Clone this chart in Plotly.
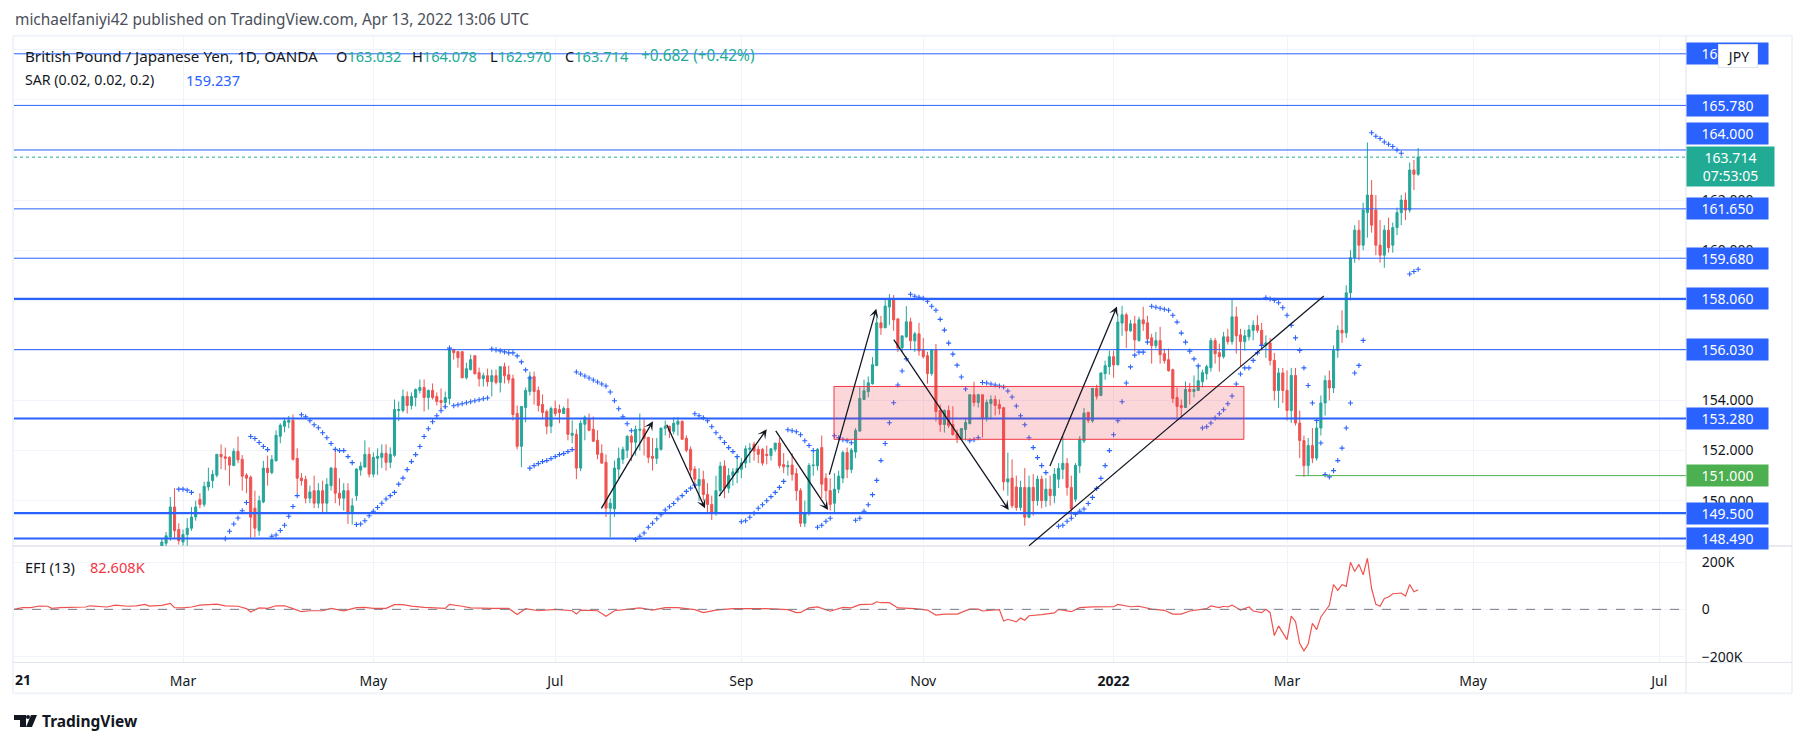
import numpy as np
import pandas as pd
import plotly.graph_objects as go

# ---------- data ----------
first_day = "2021-02-22"
open_ = [
148.1,148.3,148.55,149.75,148.85,148.35,148.65,148.9,149.35,150.05,
149.85,150.55,150.8,151.02,151.85,151.75,151.73,151.4,151.97,151.65,
151.02,150.94,149.7,148.8,149.95,151.3,151.12,151.59,152.57,152.97,
153.13,153.21,151.69,150.9,150.85,150.1,150.4,149.9,150.4,149.9,
150.6,151.3,150.3,150.1,150.4,149.5,150.2,151.22,151.34,151.85,
151.06,151.69,151.73,151.89,151.53,151.81,153.6,153.6,154.16,153.8,
154.12,154.4,154.52,154.12,154.4,154.16,154.0,153.92,154.08,156.03,
155.95,155.95,154.91,155.23,155.79,155.11,154.87,154.99,154.75,154.99,
154.72,155.35,155.03,154.87,153.48,152.17,153.72,154.36,154.95,154.4,
153.84,153.56,152.97,153.68,153.64,153.48,153.68,152.61,152.65,151.3,
153.05,153.28,152.85,152.41,151.89,151.53,149.7,149.67,151.26,151.65,
152.01,152.57,152.33,152.81,152.85,152.53,151.77,151.69,152.05,152.89,
152.97,152.77,153.05,153.17,152.49,152.05,151.26,150.6,150.85,150.25,
149.85,149.5,150.4,151.38,150.5,151.0,151.12,151.25,151.5,152.05,
152.25,152.05,152.05,151.85,151.8,152.05,152.3,151.44,151.35,151.42,
151.08,150.4,149.1,149.5,151.4,151.39,152.12,150.9,150.4,149.9,
150.46,150.9,151.92,151.25,151.94,152.78,154.04,154.35,154.67,155.39,
157.1,156.9,157.73,158.05,157.26,156.1,156.54,157.14,156.38,156.66,
156.02,155.79,155.07,156.02,153.6,153.04,153.6,153.04,152.68,152.44,
152.84,153.08,154.23,153.92,154.23,153.28,153.88,154.04,153.84,153.71,
150.75,150.9,150.55,149.73,150.53,149.34,150.53,150.0,150.86,150.0,
150.46,150.2,150.86,151.25,151.49,150.53,150.06,151.39,152.38,153.53,
153.18,154.48,154.2,155.07,155.35,155.75,155.43,157.09,157.42,156.78,
157.06,156.39,157.22,157.1,156.5,156.19,156.39,155.87,155.63,155.23,
154.12,153.8,153.72,154.44,154.36,154.4,154.75,155.07,155.31,156.39,
155.91,155.75,156.54,156.35,157.34,156.62,156.35,156.54,156.8,157.0,
156.8,156.2,156.3,155.6,154.4,155.1,154.4,153.6,155.0,153.1,
152.4,151.4,152.2,151.7,152.9,153.9,154.8,154.5,156.0,156.8,
156.7,158.3,159.7,160.8,160.2,161.5,162.2,161.6,160.2,159.8,
160.8,160.2,160.9,161.5,162.0,161.6,163.2,163.032]
high = [
148.5,148.75,150.15,150.5,149.1,148.85,149.3,149.75,150.0,150.3,
150.75,151.32,151.22,151.85,152.25,152.12,151.77,152.09,152.56,151.82,
151.1,151.0,150.4,150.2,151.59,151.8,151.82,152.81,153.09,153.31,
153.38,153.44,152.09,151.1,151.0,150.6,151.0,150.7,150.8,150.9,
151.35,152.05,150.9,150.7,150.7,150.1,151.3,151.55,152.41,152.13,
151.93,152.09,152.25,152.25,152.13,154.04,153.96,154.44,154.36,154.32,
154.48,154.84,154.84,154.44,154.68,154.32,154.48,154.36,156.13,156.07,
155.95,155.95,155.51,155.83,155.79,155.31,155.11,155.27,155.23,155.23,
155.35,155.51,155.39,155.03,153.8,153.76,154.52,155.15,155.15,154.56,
154.24,153.64,153.76,154.0,153.84,153.76,154.08,153.21,152.85,153.21,
153.4,153.48,153.36,152.81,152.25,151.85,150.1,151.6,152.12,152.16,
152.61,152.65,153.0,153.48,153.25,152.53,152.5,152.5,152.9,153.2,
153.0,153.33,153.33,153.2,152.61,152.17,151.38,151.3,151.2,150.7,
150.2,151.0,151.55,151.61,151.3,151.3,151.78,151.7,152.2,152.3,
152.35,152.2,152.1,152.2,152.1,152.3,152.5,151.9,151.6,151.9,
151.3,150.5,150.0,151.5,151.9,152.1,152.6,151.1,150.9,151.1,
151.2,152.0,152.12,152.1,152.9,154.53,154.83,154.96,155.73,157.42,
157.38,158.04,158.25,158.21,157.26,156.58,157.77,157.3,156.74,157.1,
156.5,155.94,156.06,156.26,153.84,153.64,153.8,153.77,152.84,152.88,
153.28,154.23,154.75,154.27,154.23,154.04,154.2,154.2,154.04,153.75,
151.92,151.65,151.0,150.8,151.3,151.0,151.06,151.0,151.0,150.9,
151.0,151.3,151.5,152.58,151.7,151.0,151.5,152.58,153.7,153.53,
154.48,154.63,155.12,155.59,155.99,155.99,157.46,157.78,157.5,157.22,
157.38,157.34,157.74,157.38,156.66,156.74,156.94,156.07,156.07,155.27,
154.52,154.04,154.76,154.7,155.0,155.39,155.23,155.43,156.5,156.5,
156.27,156.74,156.86,158.08,157.74,156.86,156.82,157.02,157.2,157.4,
157.1,156.6,156.5,155.9,155.3,155.3,155.2,155.3,155.3,153.6,
152.6,152.5,152.9,153.2,154.2,155.0,155.2,156.2,157.0,157.6,
158.6,160.0,161.0,161.2,161.9,164.3,162.8,162.2,161.2,161.0,
161.3,161.1,161.7,162.2,162.3,163.5,163.6,164.078]
low = [
147.9,148.0,148.4,148.5,148.25,148.2,148.2,148.8,149.2,149.7,
149.75,150.4,150.5,150.93,151.26,151.22,150.6,151.38,151.5,150.4,
150.3,148.5,148.55,148.6,149.9,150.6,151.06,151.57,152.29,152.73,
152.89,151.6,150.3,150.6,149.9,149.9,149.7,149.7,149.5,149.55,
150.4,149.9,149.8,149.6,149.07,149.05,150.0,151.0,151.33,150.93,
150.93,151.02,151.3,151.2,151.3,151.75,153.18,153.52,153.48,153.64,
153.76,154.28,153.56,153.64,154.04,153.8,153.64,153.68,153.84,155.63,
155.31,154.88,154.84,155.2,155.03,154.56,154.56,154.56,154.16,154.64,
154.32,154.68,154.68,153.2,152.05,151.33,153.13,154.2,153.84,153.56,
153.25,152.65,152.69,153.37,153.09,153.48,152.41,152.29,150.86,151.18,
152.41,152.77,152.37,151.65,151.46,149.35,148.54,149.35,150.9,151.46,
151.7,151.58,151.8,152.0,151.8,151.5,151.2,151.46,152.0,152.6,
152.5,152.65,152.6,152.45,151.93,151.0,150.5,150.0,150.0,149.55,
149.23,149.4,150.2,150.1,150.3,150.6,150.7,150.9,151.3,151.5,
151.6,151.5,151.4,151.45,151.6,151.95,151.3,151.1,151.0,150.8,
150.0,148.95,148.95,149.4,151.0,151.2,150.1,150.0,149.6,149.5,
150.3,150.7,150.9,151.1,151.7,152.75,154.04,154.12,154.63,155.39,
156.62,156.9,157.02,156.78,155.94,155.94,156.5,156.02,155.94,155.79,
155.67,154.67,154.99,153.16,152.75,152.72,152.9,152.6,152.3,152.44,
152.4,153.04,153.76,153.72,152.52,153.16,153.24,153.4,153.44,150.4,
150.2,149.7,149.6,149.6,149.0,149.3,149.4,149.8,149.7,149.75,
149.8,149.9,150.5,150.86,150.2,149.3,149.95,151.1,152.3,153.1,
153.11,154.04,154.17,154.83,155.03,154.91,155.39,156.58,156.1,156.74,
155.95,156.35,156.78,156.42,155.47,156.07,155.47,155.47,155.15,153.9,
153.2,153.27,153.71,153.84,154.12,154.4,154.52,154.83,155.15,155.47,
155.15,155.67,156.23,156.23,155.87,155.35,155.99,156.39,156.4,156.7,
156.0,155.7,155.4,154.0,153.7,153.9,153.2,153.1,153.0,151.7,
150.95,151.0,151.5,151.6,152.6,153.4,154.0,154.3,155.7,156.3,
156.5,158.0,159.5,159.6,160.0,160.5,160.7,159.8,159.5,159.3,
159.9,159.9,160.6,161.0,161.2,161.5,162.4,162.97]
close = [
148.35,148.6,149.75,148.8,148.4,148.65,148.9,149.35,149.75,149.85,
150.57,150.75,151.05,151.85,151.75,151.69,151.42,151.97,151.63,150.98,
150.9,149.34,148.9,150.0,151.3,151.12,151.64,152.61,153.01,153.18,
153.21,151.65,150.9,150.8,150.1,150.35,149.9,150.4,149.9,150.65,
151.3,150.3,150.1,150.4,149.5,149.8,151.26,151.38,151.85,151.06,
151.73,151.77,151.89,151.53,151.85,153.64,153.64,154.16,153.8,154.16,
154.44,154.52,154.12,154.4,154.12,153.96,153.92,154.12,156.03,155.91,
155.71,154.91,155.27,155.63,155.07,154.87,154.99,154.75,154.99,154.72,
155.35,154.99,154.83,153.44,152.17,153.76,154.4,154.95,154.36,153.8,
153.52,152.97,153.68,153.48,153.52,153.68,152.65,152.69,151.3,153.09,
153.33,152.81,152.37,151.85,151.5,149.7,149.9,151.3,151.69,152.05,
152.57,152.33,152.85,152.85,152.49,151.73,151.69,152.09,152.9,152.97,
152.77,153.09,153.17,152.45,152.01,151.22,150.86,150.85,150.25,149.85,
149.5,150.4,151.38,150.5,151.0,151.15,151.28,151.5,152.07,152.1,
151.98,151.85,151.5,151.8,152.07,152.3,151.4,151.35,151.4,151.05,
150.4,149.1,149.5,151.4,151.42,152.05,150.66,150.4,149.85,150.46,
150.98,151.92,151.25,152.02,152.8,154.08,154.39,154.71,155.43,157.1,
156.9,157.77,158.05,157.22,156.1,156.58,157.14,156.38,156.66,155.98,
155.75,155.07,156.02,153.56,153.04,153.6,153.0,152.64,152.48,152.88,
153.12,154.23,153.92,154.23,153.28,153.92,154.04,153.8,153.68,150.75,
150.87,149.8,149.73,150.53,149.34,150.53,150.0,150.86,150.0,150.46,
150.2,151.06,151.29,151.49,150.53,149.67,151.41,152.45,153.5,153.2,
154.48,154.17,155.1,155.39,155.75,155.42,157.13,157.42,156.78,157.06,
156.42,157.22,157.06,156.46,156.19,156.39,155.83,155.59,155.19,154.08,
153.76,153.72,154.44,154.36,154.44,154.79,155.11,155.35,156.39,155.87,
155.75,156.54,156.35,157.34,156.58,156.35,156.58,156.82,157.0,156.8,
156.2,156.3,155.6,154.4,155.1,154.4,153.6,155.0,153.1,152.4,
151.4,152.2,151.7,152.9,153.9,154.8,154.5,156.0,156.8,156.7,
158.3,159.7,160.8,160.2,161.6,162.2,161.0,160.2,159.8,160.8,
160.1,160.9,161.5,162.0,161.6,163.2,163.03,163.714]

sar_runs = [
 (-1,[150.46,150.46,150.42,150.33]),
 (10,[148.48,148.78,149.07,149.31,149.6,149.93]),
 (16,[152.56,152.48,152.32,152.16,152.04]),
 (21,[148.58,148.63,148.81,149.02,149.38,149.77,150.2]),
 (28,[153.43,153.35,153.19,153.03,152.91,152.71,152.51,152.28,152.05,152.0,152.0,151.76,151.52]),
 (41,[149.05,149.07,149.2,149.4,149.58,149.73,149.9,150.07,150.2,150.33,150.66,150.9,
      151.24,151.56,151.84,152.16,152.56,152.87,153.15,153.39,153.59,153.75]),
 (63,[156.09]),
 (64,[153.79,153.83,153.87,153.91,153.95,153.99,154.03,154.07,154.1]),
 (73,[156.05,156.02,155.98,155.94,155.9,155.9,155.78,155.54,155.22,154.9]),
 (82,[151.3,151.4,151.48,151.56,151.6,151.68,151.76,151.84,151.88,151.96,152.04]),
 (93,[155.14,155.06,154.98,154.9,154.82,154.74,154.66,154.58,154.34,153.99,153.67,153.35,153.07,152.79]),
 (107,[148.45,148.58,148.71,148.94,149.1,149.28,149.44,149.63,149.76,149.89,150.07,150.2,150.37,150.5,150.62]),
 (121,[153.47,153.39,153.31,153.19,152.95,152.71,152.51,152.32,152.12,151.96,151.76]),
 (132,[149.16,149.2,149.34,149.5,149.7,149.84,150.0,150.16,150.33,150.53,150.77]),
 (143,[152.83,152.79,152.75,152.63,152.39,152.2,152.0]),
 (150,[148.94,149.02,149.18,149.3]),
 (154,[152.59,152.51,152.43,152.39,152.31]),
 (159,[149.22,149.3,149.58,149.84,150.24,150.81,151.6,152.28,153.11,153.91,154.62,155.18,155.66]),
 (172,[158.24,158.16,158.12,158.08,157.96,157.76,157.6,157.24,156.81,156.29,155.85,155.41,154.94,154.46]),
 (186,[152.39,152.43,152.51]),
 (189,[154.72,154.7,154.66,154.62,154.58,154.54,154.38,154.14,153.78,153.39,153.03,152.51,152.12,151.72,151.4,151.12]),
 (207,[148.98,149.02,149.18,149.3,149.46,149.58,149.67,149.89,150.13,150.49,150.89,
       151.4,152.0,152.63,153.19,153.95,154.7,155.34,155.81,155.93,155.93,156.33]),
 (229,[157.76,157.72,157.68,157.64,157.6,157.4,157.13,156.69,156.33,155.97,155.66,155.38]),
 (241,[152.9,152.95,153.1,153.3,153.47,153.63,153.87,154.18,154.66,155.06,155.3,155.3,155.6,155.9,156.2]),
 (256,[158.1,158.05,158.0,157.9,157.7,157.4,157.0,156.5,156.0,155.3,154.6,153.9,153.2,152.3]),
 (270,[151.04,150.95,151.2,151.6,152.1,152.9,153.9,155.1,155.4,156.4]),
 (281,[164.69,164.55,164.46,164.32,164.23,164.14,164.0,163.87]),
 (290,[159.05,159.15,159.24]),
]

efi_bars = [
-40,-38,-36,-34,-32,-31,-29,-27,-25,-23,
-22,-20,-18,-16,-14,-13,-11,-9,-8,-5,
-3,-2,0,2,4,6,8,10,13,15,
16,18,20,22,24,26,28,30,33,35,
38,41,43,45,48,50,52,54,57,62,
63,66,68,73,77,79,81,84,88,92,
93,94,98,100,102,108,111,114,117,121,
123,126,130,138,143,145,
146,148,150,153,156,158,160,163,164,165,
167,169,171,173,176,178,180,183,186,188,
189,193,194,195,197,198,199,200,203,206,
207,210,212,215,220,221,224,226,229,232,
234,236,238,241,242,243,245,246,247,248,
250,252,253,255,256,257,258,259,261,262,
263,264,265,266,267,268,269,271,272,273,
274,275,276,277,278,279,280,281,282,283,
284,285,286,288,289,290,291,292]
efi_k = [
0,7,7,14,13,4,7,7,8,10,
15,13,10,18,15,13,15,21,14,17,
25,7,6,10,18,20,22,15,13,3,
-11,6,4,15,15,3,-10,-6,-6,4,
-6,7,8,4,4,20,20,14,8,4,
21,13,6,4,4,-22,3,-6,0,-6,
-20,-3,-6,-29,-6,6,-3,7,7,-1,
-14,-3,3,3,-1,-14,
-13,6,10,-8,8,6,20,22,32,28,
28,6,6,3,-3,-24,-20,-20,1,1,
-7,-1,-49,-42,-53,-37,-46,-27,-22,-15,
0,-10,7,10,11,21,11,13,1,-4,
-20,-20,-7,1,3,15,7,13,10,18,
-3,10,-7,-14,0,-14,-111,-70,-128,-29,
-51,-145,-175,-147,-59,-86,-32,17,105,80,
104,97,199,160,190,146,216,87,21,13,
46,52,66,69,56,105,74,82.608]

level_values = [167.84, 165.78, 164.0, 161.65, 159.68, 158.06, 156.03, 153.28, 149.5, 148.49]
level_widths = [1, 1, 1, 1, 1, 2.2, 1, 2.2, 2.2, 2.2]
level_text = ["167.840", "165.780", "164.000", "161.650", "159.680", "158.060", "156.030", "153.280", "149.500", "148.490"]
support_value = 151.0
support_from_bar = 263
last_price = 163.714

arrow_from_bar = [98.7, 114.2, 126.5, 139.9, 152.7, 167.8, 204.8]
arrow_from_price = [149.63, 153.09, 150.12, 152.85, 150.98, 156.49, 151.32]
arrow_to_bar = [111.1, 123.4, 138.0, 152.5, 163.9, 195.2, 220.8]
arrow_to_price = [153.17, 149.7, 152.85, 149.63, 157.66, 149.63, 157.75]
trend_bars = [200, 269.7]
trend_prices = [148.2, 158.17]
box_bars = [153.9, 250.8]
box_prices = [152.45, 154.56]

price_ticks = [150, 152, 154, 156, 158, 160, 162, 164, 166, 168]
price_labelled = [150, 152, 154, 160, 162]
efi_ticks = [-200000, 0, 200000]
efi_tick_text = ["\u2212200K", "0", "200K"]
time_tick_dates = ["2021-03-01", "2021-05-03", "2021-07-01", "2021-09-01", "2021-11-01", "2022-01-03", "2022-03-01", "2022-05-02", "2022-07-01"]
time_tick_text = ["Mar", "May", "Jul", "Sep", "Nov", "<b>2022</b>", "Mar", "May", "Jul"]

# ---------- layout constants ----------
W, H = 1801, 747
FONT = "Noto Sans"
BLUE = "#2962ff"; UP = "#26a69a"; DOWN = "#ef5350"; TEAL = "#22ab94"; GRID = "#f0f3fa"; EDGE = "#e0e3eb"; INK = "#131722"
L, R, T, M, B = 14, 1686, 36, 547, 664
DY = 1.1   # vertical nudge of both panes
PX_PER_BAR = 4.23
X_MAR = 183
def fx(px): return px / W
def fy(py): return 1 - py / H

bars = [int(np.busday_count("2021-03-01", d.date())) for d in pd.bdate_range(first_day, periods=len(close))]
tick_bars = [int(np.busday_count("2021-03-01", d)) for d in time_tick_dates]
x_range = [(L - X_MAR) / PX_PER_BAR, (R - X_MAR) / PX_PER_BAR]
P_TOP = 154 + (401 - T) / 25.15
P_BOT = 154 - (M - 401) / 25.15
E_TOP = (610.7 - (M + 1)) / 47.5 * 200000
E_BOT = (610.7 - B) / 47.5 * 200000

fig = go.Figure()
fig.add_trace(go.Candlestick(x=bars, open=open_, high=high, low=low, close=close, xaxis="x", yaxis="y",
    increasing=dict(line=dict(color=UP, width=1), fillcolor=UP),
    decreasing=dict(line=dict(color=DOWN, width=1), fillcolor=DOWN),
    whiskerwidth=0, hoverinfo="skip", showlegend=False))
sar_x = [s + k for s, vals in sar_runs for k in range(len(vals))]
sar_y = [v for s, vals in sar_runs for v in vals]
fig.add_trace(go.Scatter(x=sar_x, y=sar_y, mode="markers", xaxis="x", yaxis="y", hoverinfo="skip", showlegend=False,
    marker=dict(symbol="cross-thin", size=3.6, color=BLUE, line=dict(width=1.1, color=BLUE))))
fig.add_trace(go.Scatter(x=efi_bars, y=[v * 1000 for v in efi_k], mode="lines", xaxis="x2", yaxis="y2", hoverinfo="skip", showlegend=False,
    line=dict(color=DOWN, width=1.2)))

shapes = []
for v, w in zip(level_values, level_widths):
    shapes.append(dict(type="line", xref="paper", yref="y", x0=fx(L), x1=fx(R), y0=v, y1=v, line=dict(color=BLUE, width=w), layer="above"))
shapes.append(dict(type="line", xref="paper", yref="y", x0=fx(L), x1=fx(R), y0=last_price, y1=last_price, line=dict(color=TEAL, width=1, dash="dot"), layer="above"))
shapes.append(dict(type="line", xref="x", yref="y", x0=support_from_bar, x1=x_range[1], y0=support_value, y1=support_value, line=dict(color="#4caf50", width=1), layer="above"))
shapes.append(dict(type="rect", xref="x", yref="y", x0=box_bars[0], x1=box_bars[1], y0=box_prices[0], y1=box_prices[1], fillcolor="rgba(242,54,69,0.2)", line=dict(color="#f23645", width=1), layer="above"))
shapes.append(dict(type="line", xref="x", yref="y", x0=trend_bars[0], x1=trend_bars[1], y0=trend_prices[0], y1=trend_prices[1], line=dict(color=INK, width=1.2), layer="above"))
shapes.append(dict(type="line", xref="paper", yref="y2", x0=fx(L), x1=fx(R), y0=0, y1=0, line=dict(color="#787b86", width=1, dash="dash"), layer="above"))
# frame
for x0, y0, x1, y1, c, w in [(13, T, 1792, T, GRID, 2), (13, T, 13, 696, GRID, 2), (1792, T, 1792, 696, GRID, 2), (13, 696, 1792, 696, GRID, 2),
                             (13, M + DY, 1792, M + DY, EDGE, 1.5), (13, B + DY, 1792, B + DY, EDGE, 1), (R, T, R, 696, EDGE, 1)]:
    shapes.append(dict(type="line", xref="paper", yref="paper", x0=fx(x0), x1=fx(x1), y0=fy(y0), y1=fy(y1), line=dict(color=c, width=w), layer="below"))
# logo marks
def pp(pts): return "M" + " L".join(f"{fx(x)},{fy(y)}" for x, y in pts) + " Z"
shapes.append(dict(type="path", xref="paper", yref="paper", path=pp([(14, 718), (26, 718), (26, 730), (20, 730), (20, 723), (14, 723)]), fillcolor=INK, line=dict(width=0)))
shapes.append(dict(type="path", xref="paper", yref="paper", path=pp([(31, 718), (37, 718), (32, 730), (26, 730)]), fillcolor=INK, line=dict(width=0)))
shapes.append(dict(type="circle", xref="paper", yref="paper", x0=fx(26), x1=fx(30), y0=fy(722), y1=fy(718), fillcolor=INK, line=dict(width=0)))

ann = []
def text(px, py, s, size=13.5, color=INK, anchor="left"):
    ann.append(dict(xref="paper", yref="paper", x=fx(px), y=fy(py), text=s, showarrow=False, xanchor=anchor, yanchor="middle",
                    font=dict(family=FONT, size=size, color=color), align="left"))
def colored(s, c=TEAL): return f'<span style="color:{c}">{s}</span>'
text(13, 20, "michaelfaniyi42 published on TradingView.com, Apr 13, 2022 13:06 UTC", 15.4, "#4a4e59")
text(23, 56, "British Pound / Japanese Yen, 1D, OANDA", 15.2)
text(334, 56, "O" + colored("163.032"), 14.6)
text(410, 56, "H" + colored("164.078"), 14.6)
text(488, 56, "L" + colored("162.970"), 14.6)
text(563, 56, "C" + colored("163.714"), 14.6)
text(639, 56, colored("+0.682 (+0.42%)"), 15.4)
text(23, 80, "SAR (0.02, 0.02, 0.2)", 14.2)
text(184, 80, colored("159.237", BLUE), 14.6)
text(23, 569, "EFI (13)", 14.6)
text(88, 569, colored("82.608K", "#f23645"), 14.6)
text(13, 682, "<b>21</b>", 14)
text(40, 724, "<b>TradingView</b>", 15.5)

for val, label in zip(level_values, level_text):
    ann.append(dict(xref="paper", yref="y", x=fx(R), y=val, yshift=16 if val == 164.0 else 0, text=label, showarrow=False, xanchor="left", yanchor="middle",
                    width=81, height=21, bgcolor=BLUE, font=dict(family=FONT, size=14, color="white"), align="center", valign="middle", borderpad=0))
ann.append(dict(xref="paper", yref="y", x=fx(R), y=support_value, text="151.000", showarrow=False, xanchor="left", yanchor="middle",
                width=81, height=21, bgcolor="#4caf50", font=dict(family=FONT, size=14, color="white"), align="center", valign="middle", borderpad=0))
ann.append(dict(xref="paper", yref="y", x=fx(R), y=last_price, yshift=-9, text="163.714<br>07:53:05", showarrow=False, xanchor="left", yanchor="middle",
                width=87, height=39, bgcolor=TEAL, font=dict(family=FONT, size=14, color="white"), align="center", valign="middle", borderpad=0))
ann.append(dict(xref="paper", yref="paper", x=fx(1738), y=fy(56), text="JPY", showarrow=False, xanchor="center", yanchor="middle",
                width=36, height=20, bgcolor="white", bordercolor=EDGE, borderwidth=1, font=dict(family=FONT, size=14, color=INK), valign="middle"))
for x0, y0, x1, y1 in zip(arrow_from_bar, arrow_from_price, arrow_to_bar, arrow_to_price):
    ann.append(dict(xref="x", yref="y", axref="x", ayref="y", ax=x0, ay=y0, x=x1, y=y1, text="", showarrow=True,
                    arrowhead=3, arrowsize=1.2, arrowwidth=1.3, arrowcolor=INK))

axfont = dict(family=FONT, size=14, color=INK)
fig.update_layout(
    width=W, height=H, autosize=False, margin=dict(l=0, r=0, t=0, b=0), paper_bgcolor="white", plot_bgcolor="white",
    showlegend=False, shapes=shapes, annotations=ann, hovermode=False,
    xaxis=dict(domain=[fx(L), fx(R)], range=x_range, anchor="y", tickvals=tick_bars, ticktext=time_tick_text, showticklabels=False,
               showgrid=True, gridcolor=GRID, gridwidth=1, zeroline=False, rangeslider=dict(visible=False), ticks=""),
    xaxis2=dict(domain=[fx(L), fx(R)], range=x_range, anchor="y2", matches="x", tickvals=tick_bars, ticktext=time_tick_text, showticklabels=True,
                showgrid=True, gridcolor=GRID, gridwidth=1, zeroline=False, tickfont=axfont, ticks="outside", ticklen=6, tickcolor="rgba(0,0,0,0)"),
    yaxis=dict(domain=[fy(M + DY), fy(T + DY)], range=[P_BOT, P_TOP], anchor="x", side="right", tickvals=price_ticks,
               ticktext=[f"{t:.3f}" if t in price_labelled else " " for t in price_ticks],
               showgrid=True, gridcolor=GRID, gridwidth=1, zeroline=False, tickfont=axfont, ticks="outside", ticklen=12, tickcolor="rgba(0,0,0,0)"),
    yaxis2=dict(domain=[fy(B + DY), fy(M + 1 + DY)], range=[E_BOT, E_TOP], anchor="x2", side="right", tickvals=efi_ticks, ticktext=efi_tick_text,
                showgrid=True, gridcolor=GRID, gridwidth=1, zeroline=False, tickfont=axfont, ticks="outside", ticklen=12, tickcolor="rgba(0,0,0,0)"),
)
if not (len(open_) == len(high) == len(low) == len(close) == len(bars)) or len(efi_bars) != len(efi_k):
    raise SystemExit(f"LENGTHS {len(open_)} {len(high)} {len(low)} {len(close)} {len(bars)} efi {len(efi_bars)} {len(efi_k)}")
fig.write_html("out.html", config=dict(displayModeBar=False), post_script="document.body.style.margin='0';document.body.style.overflow='hidden';")
